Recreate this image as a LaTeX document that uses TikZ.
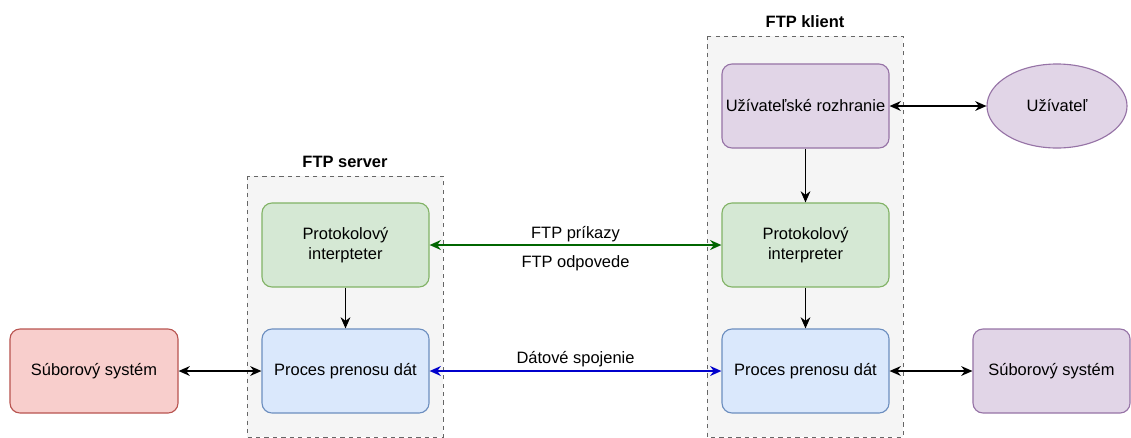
\documentclass[tikz,border=0pt]{standalone}
\usepackage{fontspec}
\setmainfont{Liberation Sans}
\usetikzlibrary{arrows.meta,shapes.geometric}

\definecolor{grfill}{HTML}{D5E8D4}
\definecolor{grline}{HTML}{82B366}
\definecolor{blfill}{HTML}{DAE8FC}
\definecolor{blline}{HTML}{6C8EBF}
\definecolor{rdfill}{HTML}{F8CECC}
\definecolor{rdline}{HTML}{B85450}
\definecolor{pufill}{HTML}{E1D5E7}
\definecolor{puline}{HTML}{9673A6}
\definecolor{grpfill}{HTML}{F5F5F5}
\definecolor{grpline}{HTML}{666666}
\definecolor{cmdarrow}{HTML}{006600}
\definecolor{dataarrow}{HTML}{0000CC}

\begin{document}
\begin{tikzpicture}[x=0.025cm, y=-0.025cm,
  every node/.style={font=\fontsize{11.7}{14}\selectfont, align=center},
  box/.style={draw, rounded corners=0.25cm, line width=0.8pt, minimum width=4.175cm, minimum height=2.1cm, inner sep=0pt},
  group/.style={draw=grpline, fill=grpfill, dashed, line width=0.7pt},
  title/.style={font=\fontsize{11.7}{14}\selectfont\bfseries},
  link/.style={line width=0.8pt, {Stealth[length=8pt,width=7pt]}-{Stealth[length=8pt,width=7pt]}},
  flow/.style={line width=0.8pt, -{Stealth[length=8pt,width=7pt]}},
  channel/.style={line width=1.5pt, {Stealth[length=8pt,width=7pt]}-{Stealth[length=8pt,width=7pt]}}]
  \useasboundingbox (0,0) rectangle (1131,437);

  % Skupiny
  \draw[group] (247,176) rectangle (443,437);
  \draw[group] (707,36) rectangle (903,437);
  \node[title] (srvtitle) at (345,162) {FTP server};
  \node[title] (cltitle) at (805,22) {FTP klient};

  % Server
  \node[box, fill=grfill, draw=grline] (srvpi) at (345.5,245) {Protokolový\\interpteter};
  \node[box, fill=blfill, draw=blline] (srvdtp) at (345.5,371) {Proces prenosu dát};
  \node[box, fill=rdfill, draw=rdline, minimum width=4.2cm] (fsl) at (94,371) {Súborový systém};

  % Klient
  \node[box, fill=pufill, draw=puline] (clui) at (805.5,106) {Užívateľské rozhranie};
  \node[box, fill=grfill, draw=grline] (clpi) at (805.5,245) {Protokolový\\interpreter};
  \node[box, fill=blfill, draw=blline] (cldtp) at (805.5,371) {Proces prenosu dát};
  \node[ellipse, draw=puline, fill=pufill, line width=0.8pt, minimum width=3.5cm, minimum height=2.1cm, inner sep=0pt] (user) at (1057,106) {Užívateľ};
  \node[box, fill=pufill, draw=puline, minimum width=3.925cm] (fsr) at (1051.5,371) {Súborový systém};

  % Spojenia
  \draw[flow] (srvpi) -- (srvdtp);
  \draw[flow] (clui) -- (clpi);
  \draw[flow] (clpi) -- (cldtp);
  \draw[link] (fsl) -- (srvdtp);
  \draw[link] (cldtp) -- (fsr);
  \draw[link] (clui) -- (user);
  \draw[channel, cmdarrow] (srvpi.east) -- (clpi.west)
    node[midway, above=-2pt, text=black] {FTP príkazy}
    node[midway, below=3.5pt, text=black] {FTP odpovede};
  \draw[channel, dataarrow] (srvdtp.east) -- (cldtp.west)
    node[midway, above=-1pt, text=black] {Dátové spojenie};
\end{tikzpicture}
\end{document}
